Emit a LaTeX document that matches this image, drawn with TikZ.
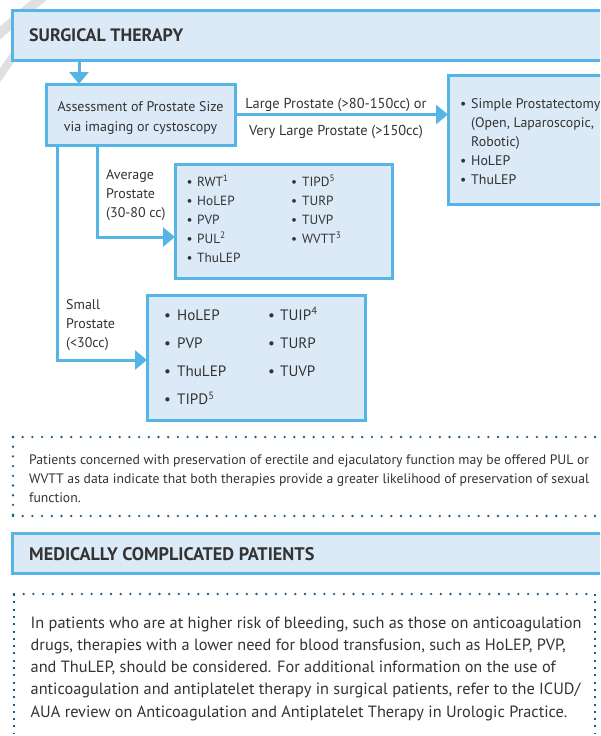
\documentclass[tikz,border=0pt]{standalone}
\usepackage{fontspec}
\setmainfont{PT Sans}
\usetikzlibrary{arrows.meta}
\definecolor{bfill}{HTML}{DCEAF7}
\definecolor{bline}{HTML}{56B5E7}
\definecolor{dotc}{HTML}{1B5F87}
\definecolor{txt}{HTML}{333333}
\definecolor{wm}{HTML}{E0E0E0}
\newcommand\blines[4]{\parbox[t]{#1}{\fontsize{#2}{#3}\selectfont\raggedright #4}}
\newcommand\clines[4]{\parbox[t]{#1}{\fontsize{#2}{#3}\selectfont\centering #4}}
\newcommand\bu[1]{\makebox[#1][l]{\textbullet}}
\begin{document}
\begin{tikzpicture}[x=1pt,y=-1pt,
  every node/.style={text=txt},
  box/.style={draw=bline, fill=bfill, line width=3pt, inner sep=0pt, outer sep=0pt, anchor=north west},
  conn/.style={draw=bline, line width=3pt, -{Triangle[width=19pt,length=12pt]}},
  lbl/.style={inner sep=0pt, anchor=base west},
  clbl/.style={inner sep=0pt, anchor=base},
  hdot/.style={draw=dotc, line width=2.6pt, line cap=round, dash pattern=on 0pt off 9.7pt},
  vdash/.style={draw=dotc, line width=1.1pt, dash pattern=on 2pt off 5.3pt}]
\clip (0,0) rectangle (600,736);
% watermark fragments
\draw[wm, line width=10pt] (46,-6) -- (-6,38);
\draw[wm, line width=8pt] (14,55) -- (-6,84);
% header 1
\node[box, minimum width=620pt, minimum height=50pt] (h1) at (12,10) {};
\node[lbl, font=\bfseries\fontsize{18}{21}\selectfont] (h1t) at (29,41.5) {SURGICAL THERAPY};
% assessment
\node[box, minimum width=189pt, minimum height=61pt] (as) at (46,84) {};
\node[clbl] (ast) at (140.5,111.5) {\clines{185pt}{14}{19.5}{Assessment of Prostate Size\\via imaging or cystoscopy}};
\coordinate (ax) at (79,0);
\draw[conn] (ax |- h1.south) -- (ax |- as.north);
% right box
\node[box, minimum width=200pt, minimum height=129pt] (rb) at (448,75) {};
\draw[conn] (as.east) -- (as.east -| rb.west);
\node[clbl, font=\fontsize{14.4}{18}\selectfont] (lg1) at (336,108.3) {Large Prostate (>80-150cc) or};
\node[clbl, font=\fontsize{14.4}{18}\selectfont] (lg2) at (336,135) {Very Large Prostate (>150cc)};
\node[lbl] (rbt) at (460,108.3) {\blines{300pt}{13.9}{19}{\bu{11pt}Simple Prostatectomy\\\hspace*{11pt}(Open, Laparoscopic,\\\hspace*{11pt}Robotic)\\\bu{11pt}HoLEP\\\bu{11pt}ThuLEP}};
% average
\node[box, minimum width=217pt, minimum height=114pt] (ab) at (175,164) {};
\coordinate (avx) at (97,0);
\coordinate (avy) at (0,237);
\draw[conn] (avx |- as.south) |- (avy -| ab.west);
\node[lbl] (avl) at (106,179.3) {\blines{100pt}{14}{19.3}{Average\\Prostate\\(30-80 cc)}};
\node[lbl] (ac1) at (186.5,186.5) {\blines{100pt}{13.3}{19.1}{\bu{10.5pt}RWT\textsuperscript{1}\\\bu{10.5pt}HoLEP\\\bu{10.5pt}PVP\\\bu{10.5pt}PUL\textsuperscript{2}\\\bu{10.5pt}ThuLEP}};
\node[lbl] (ac2) at (291,186.5) {\blines{100pt}{13.3}{19.1}{\bu{11pt}TIPD\textsuperscript{5}\\\bu{11pt}TURP\\\bu{11pt}TUVP\\\bu{11pt}WVTT\textsuperscript{3}}};
% small
\node[box, minimum width=218pt, minimum height=125pt] (sb) at (147,295) {};
\coordinate (smx) at (57,0);
\coordinate (smy) at (0,360);
\draw[conn] (smx |- as.south) |- (smy -| sb.west);
\node[lbl] (sml) at (66,309.3) {\blines{100pt}{14}{19.3}{Small\\Prostate\\(<30cc)}};
\node[lbl] (sc1) at (164,320) {\blines{100pt}{15.1}{28.3}{\bu{13pt}HoLEP\\\bu{13pt}PVP\\\bu{13pt}ThuLEP\\\bu{13pt}TIPD\textsuperscript{5}}};
\node[lbl] (sc2) at (268,320) {\blines{100pt}{15.1}{28.3}{\bu{12pt}TUIP\textsuperscript{4}\\\bu{12pt}TURP\\\bu{12pt}TUVP}};
% dotted note 1
\draw[hdot] (13,437) -- (610,437);
\draw[hdot] (13,516) -- (610,516);
\draw[hdot] (13,437) -- (13,516);
\node[lbl] (b1t) at (29,464.3) {\blines{600pt}{13.7}{19.3}{Patients concerned with preservation of erectile and ejaculatory function may be offered PUL or\\WVTT as data indicate that both therapies provide a greater likelihood of preservation of sexual\\function.}};
% header 2
\node[box, minimum width=620pt, minimum height=40pt] (h2) at (12,533) {};
\node[lbl, font=\bfseries\fontsize{18.2}{21}\selectfont] (h2t) at (29,560) {MEDICALLY COMPLICATED PATIENTS};
% dotted note 2
\draw[hdot] (14,594) -- (595,594);
\draw[vdash] (14,594) -- (14,733);
\draw[vdash] (595,594) -- (595,733);
\node[lbl] (b2t) at (30.5,628.3) {\blines{600pt}{16.3}{22.2}{In patients who are at higher risk of bleeding, such as those on anticoagulation\\drugs, therapies with a lower need for blood transfusion, such as HoLEP, PVP,\\and ThuLEP, should be considered. For additional information on the use of\\anticoagulation and antiplatelet therapy in surgical patients, refer to the ICUD/\\AUA review on Anticoagulation and Antiplatelet Therapy in Urologic Practice.}};
\end{tikzpicture}
\end{document}
